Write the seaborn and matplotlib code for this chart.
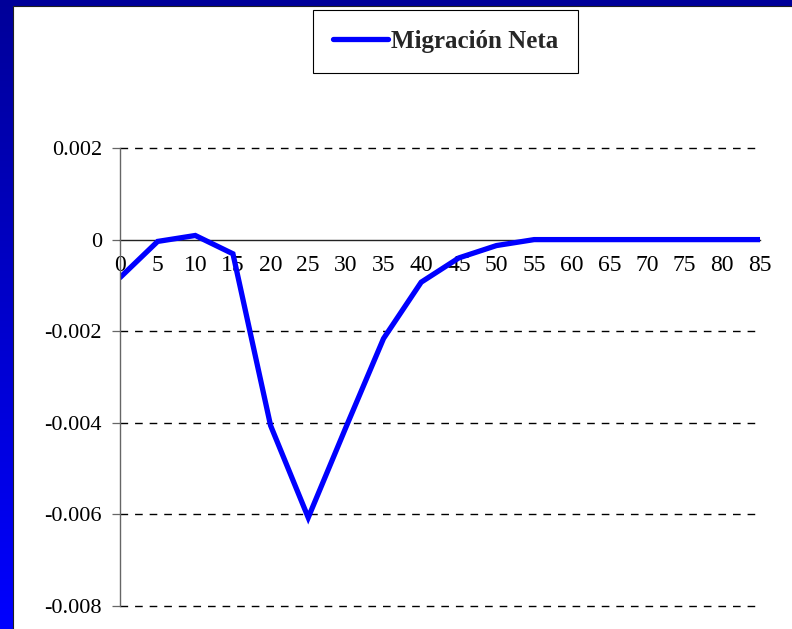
import numpy as np
import pandas as pd
import matplotlib
matplotlib.use("Agg")
import matplotlib.pyplot as plt
import seaborn as sns
from matplotlib.patches import Rectangle
from matplotlib.colors import LinearSegmentedColormap

# ---- data ----
edades = [0, 5, 10, 15, 20, 25, 30, 35, 40, 45, 50, 55, 60, 65, 70, 75, 80, 85]
migracion_neta = [-0.00083, -0.00004, 0.00009, -0.00031, -0.00406, -0.00607,
                  -0.0041, -0.00216, -0.00093, -0.0004, -0.00013, 0.0, 0.0,
                  0.0, 0.0, 0.0, 0.0, 0.0]
serie = "Migración Neta"
y_ticks = [0.002, 0.0, -0.002, -0.004, -0.006, -0.008]
y_labels = ["0.002", "0", "-0.002", "-0.004", "-0.006", "-0.008"]
x_labels = [str(v) for v in edades]

df = pd.DataFrame({"edad": edades, "valor": migracion_neta, "serie": serie})

sns.set_style("white")
plt.rcParams["font.family"] = ["Liberation Serif", "DejaVu Serif"]

W, H = 792, 629
fig = plt.figure(figsize=(W / 100, H / 100), dpi=100)
fig.patch.set_facecolor("white")

# background gradient frame
bg = fig.add_axes([0, 0, 1, 1], zorder=0)
grad = np.linspace(0, 1, 256).reshape(-1, 1)
cmap = LinearSegmentedColormap.from_list("frame", [(0.0, 0.0, 0.60), (0.0, 0.0, 1.0)])
bg.imshow(grad, aspect="auto", cmap=cmap, extent=[0, 1, 0, 1], origin="upper")
bg.add_patch(Rectangle((13 / W, -0.1), 1.2, 1.1 - 6 / H, facecolor="white",
                       edgecolor="#202020", linewidth=0.8))
bg.set_xlim(0, 1)
bg.set_ylim(0, 1)
bg.axis("off")

# main axes
left, right, top, bottom = 120, 760, 148, 606
ax = fig.add_axes([left / W, 1 - bottom / H, (right - left) / W, (bottom - top) / H], zorder=2)
ax.patch.set_alpha(0)

sns.lineplot(data=df, x="edad", y="valor", color="#0000ff", linewidth=3.8,
             ax=ax, legend=False, label=serie, solid_joinstyle="miter")

ax.set_xlim(0, 85)
ax.set_ylim(-0.008, 0.002)
ax.set_xlabel("")
ax.set_ylabel("")

for s in ["top", "right"]:
    ax.spines[s].set_visible(False)
ax.spines["bottom"].set_position(("data", 0))
ax.spines["bottom"].set_color("#222222")
ax.spines["bottom"].set_linewidth(1.0)
ax.spines["bottom"].set_zorder(1)
ax.spines["left"].set_color("#666666")
ax.spines["left"].set_linewidth(1.0)

ax.set_xticks(edades)
ax.set_xticklabels(x_labels)
ax.set_yticks(y_ticks)
ax.set_yticklabels(y_labels)
ax.tick_params(axis="x", direction="out", length=6, width=0.9, color="#222222",
               pad=5, labelsize=17)
ax.tick_params(axis="y", direction="out", length=6, width=0.9, color="#666666",
               pad=7, labelsize=16, left=True)

for yv in y_ticks:
    if yv != 0:
        ax.axhline(yv, color="black", linewidth=1.0, linestyle=(0, (5.5, 5)),
                   zorder=0, clip_on=False)

for lab in ax.get_xticklabels() + ax.get_yticklabels():
    lab.set_color("black")

# legend
handles, labels = ax.get_legend_handles_labels()
leg = fig.legend(handles, labels, loc="center",
                 bbox_to_anchor=((317 + 574) / 2 / W, 1 - (6 + 77) / 2 / H),
                 frameon=True, fancybox=False, edgecolor="black", framealpha=1,
                 prop={"family": "Liberation Serif", "weight": "bold", "size": 18},
                 handlelength=2.2, handletextpad=0.1, borderpad=0.8, borderaxespad=0)
leg.get_frame().set_linewidth(0.8)
leg.set_zorder(5)

fig.savefig("out.png", dpi=100)
